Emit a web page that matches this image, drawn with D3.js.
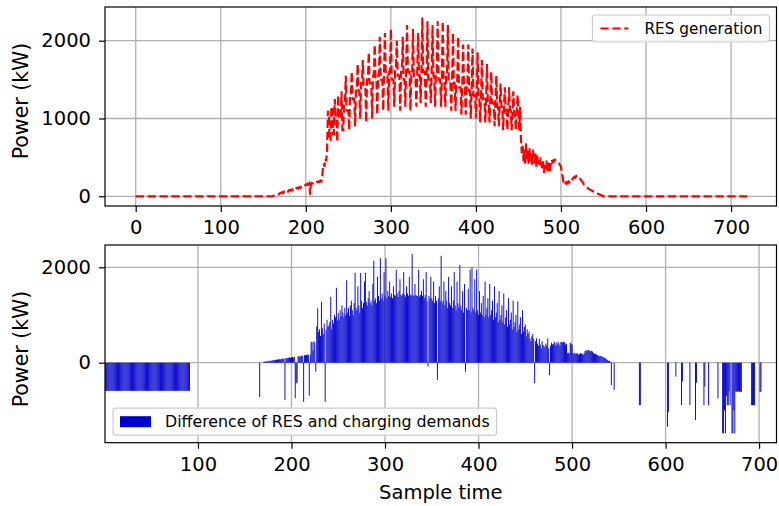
<!DOCTYPE html>
<html>
<head>
<meta charset="utf-8">
<script src="https://cdn.jsdelivr.net/npm/d3@7"></script>
<style>
  body { margin: 0; background: #fff; }
  svg text { font-family: "DejaVu Sans", sans-serif; fill: #000; }
</style>
</head>
<body>
<div id="chart"></div>
<script>
// RES generation (kW), one value per sample time 0..719
const resGeneration = [
  0,0,0,0,0,0,0,0,0,0,0,0,0,0,0,0,0,0,0,0,
  0,0,0,0,0,0,0,0,0,0,0,0,0,0,0,0,0,0,0,0,
  0,0,0,0,0,0,0,0,0,0,0,0,0,0,0,0,0,0,0,0,
  0,0,0,0,0,0,0,0,0,0,0,0,0,0,0,0,0,0,0,0,
  0,0,0,0,0,0,0,0,0,0,0,0,0,0,0,0,0,0,0,0,
  0,0,0,0,0,0,0,0,0,0,0,0,0,0,0,0,0,0,0,0,
  0,0,0,0,0,0,0,0,0,0,0,0,0,0,0,0,0,0,0,0,
  0,0,0,0,0,0,0,0,0,0,0,0,0,0,0,0,0,0,0,0,
  0,0,5,10,15,20,25,30,25,35,40,45,50,40,55,60,50,65,70,60,
  75,80,70,85,90,80,95,100,90,105,110,100,115,120,110,125,130,120,135,140,
  150,145,160,150,165,20,160,170,165,175,170,180,175,185,180,190,185,200,190,210,
  350,420,380,480,450,600,1100,1050,720,720,1150,1150,800,800,1250,1000,1000,700,1300,1000,
  1000,1000,1350,850,850,1200,1200,1550,1100,1100,1100,850,1300,1300,1600,1250,1250,1250,900,1400,
  1400,1700,1350,1350,1000,1450,1450,1750,1400,1400,1400,950,1500,1500,1850,1450,1450,1450,1000,1550,
  1550,1950,1500,1500,1050,1550,1550,2050,1500,1500,1500,1100,1600,2100,1550,1550,1550,1100,1600,1600,
  2150,1500,1500,1500,1150,1650,1650,2000,1550,1550,1550,1100,1600,1600,2050,1500,1500,1150,1650,2200,
  1600,1600,1600,1100,1550,1550,2150,1500,1500,1500,1150,1600,2100,1550,1550,1200,1650,2300,1600,1600,
  1600,1150,1550,2250,1500,1500,1500,1200,1600,2200,1550,1550,1150,1600,1600,2250,1500,1500,1500,1150,
  1550,2250,1500,1500,1150,1550,1550,2200,1450,1450,1450,1100,1500,2100,1450,1450,1100,1450,1450,2050,
  1400,1400,1400,1050,1450,1950,1400,1400,1050,1400,1400,1950,1350,1350,1000,1400,1900,1300,1300,1300,
  1000,1350,1850,1300,1300,950,1300,1750,1250,1250,1250,950,1250,1700,1200,1200,950,1250,1600,1200,
  1200,1200,900,1200,1550,1150,1150,900,1200,1450,1150,1150,850,1150,1400,1100,1100,850,1150,1400,
  1100,1100,850,1100,1350,1050,1050,850,1100,1300,1050,850,1150,720,550,650,450,600,400,680,
  480,580,420,620,450,550,400,600,480,420,550,380,520,400,460,380,500,420,360,450,
  300,420,350,460,320,400,450,300,430,470,440,460,450,470,460,450,440,430,420,400,
  380,300,250,180,150,170,160,180,170,190,180,200,190,210,230,240,250,240,260,250,
  240,245,235,220,200,190,170,150,140,130,120,110,100,95,85,80,75,70,60,55,
  50,45,40,35,30,25,20,15,10,5,0,0,0,0,0,0,0,0,0,0,
  0,0,0,0,0,0,0,0,0,0,0,0,0,0,0,0,0,0,0,0,
  0,0,0,0,0,0,0,0,0,0,0,0,0,0,0,0,0,0,0,0,
  0,0,0,0,0,0,0,0,0,0,0,0,0,0,0,0,0,0,0,0,
  0,0,0,0,0,0,0,0,0,0,0,0,0,0,0,0,0,0,0,0,
  0,0,0,0,0,0,0,0,0,0,0,0,0,0,0,0,0,0,0,0,
  0,0,0,0,0,0,0,0,0,0,0,0,0,0,0,0,0,0,0,0,
  0,0,0,0,0,0,0,0,0,0,0,0,0,0,0,0,0,0,0,0,
  0,0,0,0,0,0,0,0,0,0,0,0,0,0,0,0,0,0,0,0
];

// difference of RES and charging demands (kW), sample time 1..718
const netPower = [
  -590,-590,-590,-590,-590,-590,-590,-590,-590,-590,
  -590,-590,-590,-590,-590,-590,-590,-590,-590,-590,
  -590,-590,-590,-590,-590,-590,-590,-590,-590,-590,
  -590,-590,-590,-590,-590,-590,-590,-590,-590,-590,
  -590,-590,-590,-590,-590,-590,-590,-590,-590,-590,
  -590,-590,-590,-590,-590,-590,-590,-590,-590,-590,
  -590,-590,-590,-590,-590,-590,-590,-590,-590,-590,
  -590,-590,-590,-590,-590,-590,-590,-590,-590,-590,
  -590,-590,-590,-590,-590,-590,-590,-590,-590,-590,
  -590,0,0,0,0,0,0,0,0,0,
  0,0,0,0,0,0,0,0,0,0,
  0,0,0,0,0,0,0,0,0,0,
  0,0,0,0,0,0,0,0,0,0,
  0,0,0,0,0,0,0,0,0,0,
  0,0,0,0,0,0,0,0,0,0,
  0,0,0,0,0,0,0,0,0,0,
  0,0,0,0,0,-720,0,0,0,15,
  20,25,20,30,35,30,40,45,40,50,
  55,50,60,65,60,70,75,70,80,85,
  80,90,-780,95,100,90,105,110,100,115,
  120,110,125,-740,-430,-420,130,135,140,130,
  150,145,-820,160,155,165,170,160,-690,175,
  440,430,260,450,420,-190,760,1140,650,700,
  560,1280,720,600,820,-820,680,900,750,780,
  850,1380,700,900,820,1000,950,1570,880,1040,
  900,1100,980,1200,1050,950,1150,1000,1730,1050,
  1150,980,1200,1300,1100,1000,1250,1880,1150,1100,
  1600,1200,1050,1880,1300,1150,1250,1700,1880,1280,
  1200,1350,1500,1250,1300,1200,1650,2140,1300,1350,
  1250,1800,1400,1300,2190,1350,1450,1300,1900,1400,
  2190,1350,1500,1400,1700,1380,1450,1350,1600,1420,
  1400,1950,1450,1380,1500,1750,1420,1400,1450,1900,
  1420,1380,1600,1450,1400,1800,1430,1400,2280,1420,
  1400,1650,1420,1400,1400,1950,1380,1420,1500,1400,
  1750,1350,1420,1900,1300,-80,1400,1350,1800,1350,
  1300,1700,1250,1400,1300,-360,1350,1600,1300,2240,
  1250,1300,1700,1200,1500,1300,1150,1800,1250,1200,
  1600,1150,1300,1900,1200,1100,1700,1250,1150,2050,
  1200,1100,1500,1050,1650,-190,1150,1100,1550,1100,
  1950,1050,2000,1150,1100,1750,1050,1950,1100,1000,
  1500,1050,1250,1000,1400,950,1700,1000,1150,1350,
  950,1650,1000,1100,1300,900,1600,950,1050,1250,
  850,1500,900,1000,1200,850,1450,800,950,1100,
  750,1350,800,900,1050,700,1300,750,850,1000,
  650,1280,700,800,950,600,1100,650,750,800,
  550,700,600,650,500,450,550,600,500,-430,
  450,510,400,350,500,380,300,450,370,350,
  320,400,360,510,300,-260,350,420,380,400,
  440,360,420,380,440,400,350,430,440,420,
  440,430,380,400,200,210,190,420,400,380,
  200,190,210,180,200,190,170,180,200,190,
  180,170,200,250,260,250,270,260,250,240,
  250,230,200,190,180,170,160,150,140,145,
  140,130,120,110,100,90,70,50,40,30,
  20,-470,0,0,-570,0,0,0,0,0,
  0,0,0,0,0,0,0,0,0,0,
  0,0,0,0,0,0,0,0,0,0,
  0,-890,-890,0,0,0,0,0,0,0,
  0,0,0,0,0,0,0,0,0,0,
  0,0,0,0,0,0,0,0,0,0,
  0,-1340,-1030,0,0,0,0,0,0,0,
  -290,0,0,0,0,0,-890,-390,0,0,
  0,0,0,0,0,-890,0,0,0,0,
  0,-1200,-420,0,0,0,0,0,0,0,
  -890,-500,0,0,0,-890,0,0,0,0,
  0,0,0,0,0,-750,0,0,0,0,
  -1480,-1480,-1000,-1480,-700,-890,-890,-600,-890,0,
  -1480,-1480,-1000,-1480,-600,-610,-610,-600,-610,-610,
  -610,0,0,0,0,0,0,0,0,0,
  0,-890,-890,-890,-890,0,0,0,0,0,
  -610,-610,0,0,0,0,0,0,0,0,
  0,0,0,0,0,0,0,0
];

const topXTicks = [0, 100, 200, 300, 400, 500, 600, 700];
const topYTicks = [0, 1000, 2000];
const bottomXTicks = [100, 200, 300, 400, 500, 600, 700];
const bottomYTicks = [0, 2000];

const W = 779, H = 506;
const left = 105, right = 776.5;
const topPanel = { top: 7, bottom: 206 };
const botPanel = { top: 245, bottom: 442.7 };

const svg = d3.select('#chart')
              .append('svg')
              .attr('width', W)
              .attr('height', H);

const xTop = d3.scaleLinear().domain([-36.1, 753.4]).range([left, right]);
const yTop = d3.scaleLinear().domain([-125, 2433]).range([topPanel.bottom, topPanel.top]);
const xBot = d3.scaleLinear().domain([0.6, 718.6]).range([left, right]);
const yBot = d3.scaleLinear().domain([-1677, 2467]).range([botPanel.bottom, botPanel.top]);

function drawGrid(g, xs, ys, xT, yT, panel) {
  g.selectAll('.vgrid').data(xT).enter().append('line')
   .attr('x1', d => xs(d)).attr('x2', d => xs(d))
   .attr('y1', panel.top).attr('y2', panel.bottom)
   .attr('stroke', '#b0b0b0').attr('stroke-width', 1.3);
  g.selectAll('.hgrid').data(yT).enter().append('line')
   .attr('x1', left).attr('x2', right)
   .attr('y1', d => ys(d)).attr('y2', d => ys(d))
   .attr('stroke', '#b0b0b0').attr('stroke-width', 1.3);
}

function drawAxes(xs, ys, xT, yT, panel) {
  const xAxis = d3.axisBottom(xs).tickValues(xT).tickSize(6).tickPadding(8).tickFormat(d3.format('d'));
  const yAxis = d3.axisLeft(ys).tickValues(yT).tickSize(6).tickPadding(8).tickFormat(d3.format('d'));

  const gx = svg.append('g')
     .attr('transform', `translate(0, ${panel.bottom})`)
     .call(xAxis);
  const gy = svg.append('g')
     .attr('transform', `translate(${left}, 0)`)
     .call(yAxis);

  [gx, gy].forEach(g => {
    g.select('.domain').remove();
    g.selectAll('line').attr('stroke', '#000').attr('stroke-width', 1.2);
    g.selectAll('text').style('font-size', '19.5px').attr('fill', '#000');
  });

  svg.append('rect')
     .attr('x', left).attr('y', panel.top)
     .attr('width', right - left).attr('height', panel.bottom - panel.top)
     .attr('fill', 'none').attr('stroke', '#000').attr('stroke-width', 1.2);
}

function drawLegend(x, y, label, fontSize, swatch) {
  const g = svg.append('g');
  const box = g.append('rect')
     .attr('x', x).attr('y', y).attr('rx', 3)
     .attr('height', 27)
     .attr('fill', '#fff').attr('fill-opacity', 0.8)
     .attr('stroke', '#cccccc').attr('stroke-width', 1.2);
  swatch(g, x + 7, y + 13.5);
  const t = g.append('text')
     .attr('x', x + 52).attr('y', y + 19)
     .style('font-size', fontSize + 'px')
     .text(label);
  const w = t.node().getComputedTextLength();
  box.attr('width', 52 + w + 7);
  return { g, box, width: 52 + w + 7 };
}

// ---------- top panel ----------
const gTop = svg.append('g');
drawGrid(gTop, xTop, yTop, topXTicks, topYTicks, topPanel);

const line = d3.line()
               .x((d, i) => xTop(i))
               .y(d => yTop(d));

svg.append('path')
   .datum(resGeneration)
   .attr('d', line)
   .attr('fill', 'none')
   .attr('stroke', '#ff0000')
   .attr('stroke-width', 2.2)
   .attr('stroke-dasharray', '8.3,3.6');

drawAxes(xTop, yTop, topXTicks, topYTicks, topPanel);

const legTop = drawLegend(0, 15, 'RES generation', 15.3, (g, x, cy) => {
  g.append('line')
   .attr('x1', x + 1).attr('x2', x + 29)
   .attr('y1', cy).attr('y2', cy)
   .attr('stroke', '#ff0000').attr('stroke-width', 2.2)
   .attr('stroke-dasharray', '8.3,3.6');
});
legTop.g.attr('transform', `translate(${right - 7 - legTop.width}, 0)`);

// ---------- bottom panel ----------
const gBot = svg.append('g');
drawGrid(gBot, xBot, yBot, bottomXTicks, bottomYTicks, botPanel);

const barW = xBot(1) - xBot(0);
svg.append('g')
   .selectAll('rect')
   .data(netPower)
   .enter()
   .append('rect')
   .attr('x', (d, i) => xBot(i + 1) - barW / 2)
   .attr('y', d => yBot(Math.max(0, d)))
   .attr('width', barW)
   .attr('height', d => Math.abs(yBot(d) - yBot(0)))
   .attr('fill', '#0000cd');

drawAxes(xBot, yBot, bottomXTicks, bottomYTicks, botPanel);

drawLegend(113, botPanel.bottom - 7.5 - 27, 'Difference of RES and charging demands', 15.8, (g, x, cy) => {
  g.append('rect')
   .attr('x', x).attr('y', cy - 5.5)
   .attr('width', 31).attr('height', 11)
   .attr('fill', '#0000cd');
});

// ---------- axis labels ----------
svg.append('text')
   .attr('transform', 'translate(28, 101) rotate(-90)')
   .attr('text-anchor', 'middle')
   .style('font-size', '20.5px')
   .text('Power (kW)');

svg.append('text')
   .attr('transform', 'translate(28, 349) rotate(-90)')
   .attr('text-anchor', 'middle')
   .style('font-size', '20.5px')
   .text('Power (kW)');

svg.append('text')
   .attr('x', (left + right) / 2)
   .attr('y', 499)
   .attr('text-anchor', 'middle')
   .style('font-size', '19.5px')
   .text('Sample time');
</script>
</body>
</html>
